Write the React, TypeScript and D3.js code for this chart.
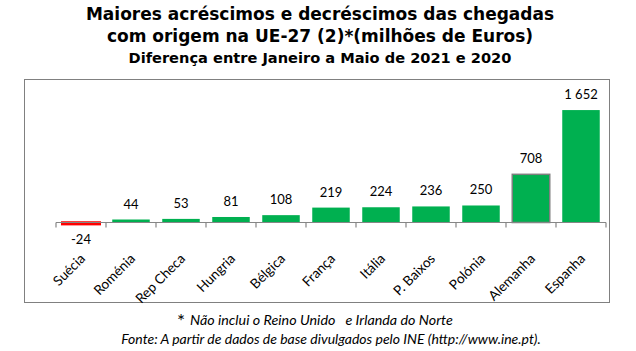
import React, { useEffect, useRef } from "react";
import * as d3 from "d3";

const categories = ["Suécia", "Roménia", "Rep Checa", "Hungria", "Bélgica", "França", "Itália", "P. Baixos", "Polónia", "Alemanha", "Espanha"];
const values = [-24, 44, 53, 81, 108, 219, 224, 236, 250, 708, 1652];
const valueLabels = ["-24", "44", "53", "81", "108", "219", "224", "236", "250", "708", "1 652"];
const outlined = ["Suécia", "Alemanha"];

const titleLines = [
  "Maiores acréscimos e decréscimos das chegadas",
  "com origem na UE-27 (2)*(milhões de Euros)",
];
const subtitle = "Diferença entre Janeiro a Maio de 2021 e 2020";
const noteText = "Não inclui o Reino Unido   e Irlanda do Norte";
const sourceText = "Fonte: A partir de dados de base divulgados pelo INE (http://www.ine.pt).";

const W = 636;
const H = 351;

export default function App() {
  const ref = useRef<SVGSVGElement>(null);

  useEffect(() => {
    const svg = d3.select(ref.current);
    svg.selectAll("*").remove();

    const x = d3.scaleBand<string>().domain(categories).range([56, 606]).paddingInner(0.25).paddingOuter(0.125);
    const y = d3.scaleLinear().domain([0, 1800]).range([222.5, 100]);
    const gap = (x.step() - x.bandwidth()) / 2;

    // titles
    svg.selectAll(".title")
      .data(titleLines)
      .join("text")
      .attr("x", 320)
      .attr("y", (d, i) => 20 + i * 22)
      .attr("text-anchor", "middle")
      .style("font-family", "DejaVu Sans")
      .style("font-weight", "bold")
      .style("font-size", "17px")
      .text(d => d);
    svg.append("text")
      .attr("x", 320)
      .attr("y", 63)
      .attr("text-anchor", "middle")
      .style("font-family", "DejaVu Sans")
      .style("font-weight", "bold")
      .style("font-size", "14.6px")
      .text(subtitle);

    // frame
    svg.append("rect")
      .attr("x", 24.5).attr("y", 79.5)
      .attr("width", 585).attr("height", 223)
      .attr("fill", "none").attr("stroke", "#808080").attr("stroke-width", 1);

    // bars
    svg.selectAll(".bar")
      .data(values)
      .join("rect")
      .attr("x", (d, i) => x(categories[i])!)
      .attr("width", x.bandwidth())
      .attr("y", d => Math.min(y(d), y(0)))
      .attr("height", d => Math.abs(y(d) - y(0)))
      .attr("fill", d => d < 0 ? "#ff0000" : "#00b050")
      .attr("stroke", (d, i) => d < 0 ? "#ff0000" : outlined.includes(categories[i]) ? "#7f7f7f" : "none")
      .attr("stroke-width", (d, i) => d < 0 ? 2.5 : 1.5);

    // axis
    const ax = svg.append("g").attr("stroke", "#868686").attr("stroke-width", 1.2);
    ax.append("line").attr("x1", 56).attr("x2", 606).attr("y1", y(0)).attr("y2", y(0));
    const ticks = categories.map(c => x(c)! - gap).concat([x(categories[categories.length - 1])! + x.bandwidth() + gap]);
    ax.selectAll(".tick")
      .data(ticks)
      .join("line")
      .attr("x1", d => d).attr("x2", d => d)
      .attr("y1", y(0)).attr("y2", y(0) + 5);

    // value labels
    svg.selectAll(".val")
      .data(values)
      .join("text")
      .attr("x", (d, i) => x(categories[i])! + x.bandwidth() / 2)
      .attr("y", d => d < 0 ? y(d) + 20 : y(d) - 11)
      .attr("text-anchor", "middle")
      .style("font-family", "Lato")
      .style("font-size", "13px")
      .text((d, i) => valueLabels[i]);

    // category labels
    svg.selectAll(".cat")
      .data(categories)
      .join("text")
      .attr("transform", d => `translate(${x(d)! + x.bandwidth() / 2 + 5},${y(0) + 37}) rotate(-45)`)
      .attr("text-anchor", "end")
      .style("font-family", "Lato")
      .style("font-size", "13.6px")
      .text(d => d);

    // footer
    svg.append("text")
      .attr("x", 177).attr("y", 328)
      .style("font-family", "Lato")
      .style("font-size", "19px")
      .text("*");
    svg.append("text")
      .attr("x", 190).attr("y", 325)
      .attr("xml:space", "preserve")
      .style("white-space", "pre")
      .style("font-family", "Lato")
      .style("font-style", "italic")
      .style("font-size", "14.3px")
      .text(noteText);
    svg.append("text")
      .attr("x", 331).attr("y", 344)
      .attr("text-anchor", "middle")
      .style("font-family", "Lato")
      .style("font-style", "italic")
      .style("font-size", "14px")
      .text(sourceText);
  }, []);

  return (
    <svg ref={ref} width={W} height={H} style={{ position: "absolute", left: 0, top: 0, background: "#fff" }} />
  );
}
